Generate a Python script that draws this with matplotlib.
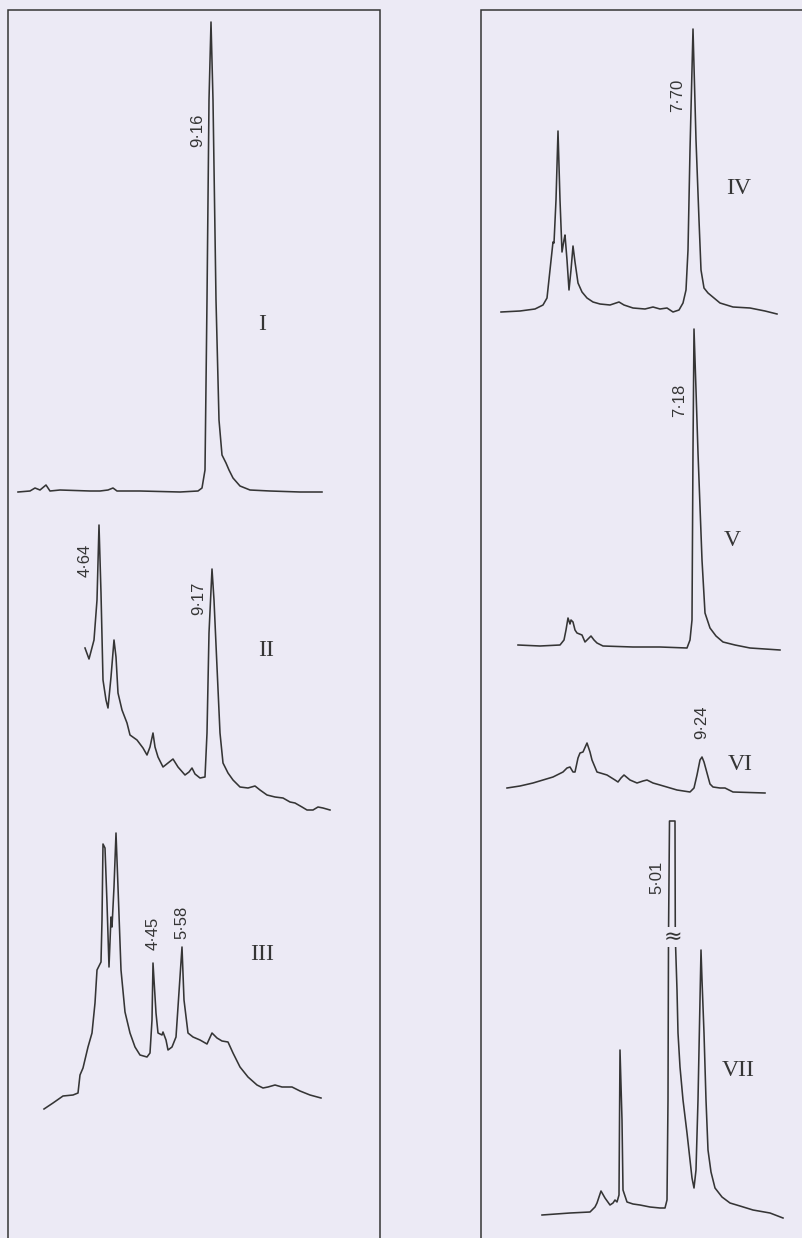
import matplotlib
matplotlib.use("Agg")
import matplotlib.pyplot as plt
from matplotlib.patches import Rectangle

trace_I_x = [10, 22, 27, 32, 38, 42, 52, 82, 92, 100, 105, 109, 132, 172, 190, 194, 197, 199, 201, 203,
             205, 208, 211, 214, 218, 221, 225, 232, 242, 262, 292, 314]
trace_I_y = [1, 2, 5, 3, 8, 2, 3, 2, 2, 3, 5, 2, 2, 1, 2, 5, 23, 193, 393, 471,
             393, 193, 73, 38, 30, 23, 15, 7, 3, 2, 1, 1]

trace_II_x = [77, 81, 86, 89, 91, 93, 95, 98, 100, 103, 106, 108, 110, 114, 119, 122, 129, 135, 139, 142,
              145, 147, 150, 155, 160, 165, 170, 177, 181, 184, 187, 192, 197, 199, 201, 204, 206, 209,
              212, 215, 220, 225, 232, 240, 247, 252, 259, 267, 275, 282, 287, 294, 299, 305, 310, 315, 322]
trace_II_y = [162, 151, 170, 210, 285, 217, 130, 110, 102, 133, 170, 153, 117, 100, 87, 75, 70, 62, 55, 63,
              77, 63, 53, 43, 47, 51, 43, 35, 38, 42, 36, 32, 33, 77, 177, 241, 210, 143,
              77, 47, 37, 30, 23, 22, 24, 20, 15, 13, 12, 8, 7, 3, 0, 0, 3, 2, 0]

trace_III_x = [36, 45, 55, 65, 70, 72, 75, 80, 84, 87, 89, 93, 94, 95, 97, 99, 101, 103, 104, 106,
               108, 110, 113, 117, 122, 127, 132, 139, 142, 144, 145, 148, 150, 154, 155, 158, 160, 164,
               168, 170, 174, 176, 180, 185, 192, 199, 204, 209, 214, 220, 225, 232, 240, 249, 255, 260,
               267, 274, 284, 292, 302, 313]
trace_III_y = [0, 6, 13, 14, 16, 34, 41, 62, 76, 106, 139, 147, 189, 265, 261, 206, 142, 192, 182, 222,
               276, 222, 139, 97, 76, 62, 54, 52, 56, 89, 146, 96, 76, 74, 77, 69, 59, 62,
               72, 102, 162, 109, 76, 72, 69, 65, 76, 71, 68, 67, 56, 42, 32, 24, 21, 22,
               24, 22, 22, 18, 14, 11]

trace_IV_x = [20, 39, 54, 62, 66, 69, 72, 73, 75, 77, 79, 81, 83, 84, 86, 88, 90, 92, 94, 97,
              101, 106, 112, 119, 129, 138, 143, 152, 164, 172, 179, 186, 192, 198, 202, 205, 207,
              209, 212, 215, 218, 220, 223, 227, 233, 239, 252, 269, 284, 296]
trace_IV_y = [2, 3, 5, 9, 16, 44, 72, 71, 114, 183, 114, 62, 74, 79, 54, 24, 44, 68, 52, 31,
              22, 16, 12, 10, 9, 12, 9, 6, 5, 7, 5, 6, 2, 4, 11, 24, 64,
              164, 285, 174, 94, 44, 26, 21, 16, 11, 7, 6, 3, 0]

trace_V_x = [37, 59, 79, 83, 85, 87, 89, 90, 92, 94, 96, 101, 104, 107, 110, 113, 116, 122, 152, 179,
             206, 209, 211, 212, 213, 215, 217, 221, 224, 229, 235, 242, 254, 269, 299]
trace_V_y = [5, 4, 5, 10, 20, 32, 26, 30, 28, 20, 17, 15, 8, 11, 14, 10, 7, 4, 3, 3,
             2, 10, 30, 200, 321, 260, 197, 90, 37, 22, 14, 8, 5, 2, 0]

trace_VI_x = [26, 39, 52, 72, 82, 86, 89, 92, 94, 97, 99, 102, 106, 109, 111, 116, 126, 134, 137, 140,
              143, 149, 156, 162, 166, 172, 179, 196, 209, 213, 216, 219, 221, 223, 226, 229, 232, 239,
              244, 252, 284]
trace_VI_y = [5, 7, 10, 16, 21, 25, 26, 21, 21, 35, 40, 41, 50, 41, 33, 21, 18, 13, 11, 15,
              18, 13, 10, 12, 13, 10, 8, 3, 1, 5, 18, 33, 36, 31, 20, 9, 6, 5,
              5, 1, 0]

trace_VII_x = [61, 89, 109, 114, 116, 120, 124, 129, 132, 134, 136, 138, 139, 141, 142, 146, 152, 159, 169, 179,
               184, 186, 187, 187.5, 188.5, 194, 194.3, 196, 197, 199, 202, 206, 209, 211, 213, 215, 217,
               219, 220, 221, 223, 225, 227, 230, 234, 241, 249, 259, 272, 289, 302]
trace_VII_y = [3, 5, 6, 11, 15, 27, 20, 13, 15, 18, 16, 23, 168, 98, 28, 16, 14, 13, 11, 10,
               10, 18, 118, 281, 397, 397, 281, 228, 185, 151, 118, 85, 58, 40, 30, 48, 118,
               218, 268, 238, 185, 118, 68, 46, 30, 21, 15, 12, 8, 5, 0]

# peak retention labels: (trace, x, y, text)
peak_labels = [("I", 190, 363, "9·16"),
               ("II", 77, 250, "4·64"), ("II", 191, 212, "9·17"),
               ("III", 145, 176, "4·45"), ("III", 174, 187, "5·58"),
               ("IV", 197, 219, "7·70"),
               ("V", 199, 250, "7·18"),
               ("VI", 221, 71, "9·24"),
               ("VII", 176, 341, "5·01")]
# roman numeral panel names: (trace, x, y)
trace_names = [("I", 254, 168), ("II", 258, 160), ("III", 254, 154),
               ("IV", 258, 125), ("V", 251, 110), ("VI", 259, 28), ("VII", 257, 148)]

W, H = 803, 1238
bg = "#ECEAF5"
ink = "#353535"

fig = plt.figure(figsize=(W / 100, H / 100), dpi=100)
fig.patch.set_facecolor(bg)

# two framed boxes (pixel layout: left, top, right)
boxes = {"left": (8, 10, 380), "right": (481, 10, 820)}
for left, top, right in boxes.values():
    fig.patches.append(Rectangle((left / W, -0.05), (right - left) / W, (H - top) / H + 0.05,
                                 transform=fig.transFigure, fill=False, ec=ink, lw=1.1))

# where each trace sits: box and baseline row (pixels from top)
placement = {"I": ("left", 493), "II": ("left", 810), "III": ("left", 1109),
             "IV": ("right", 314), "V": ("right", 650), "VI": ("right", 793), "VII": ("right", 1218)}
data = {"I": (trace_I_x, trace_I_y), "II": (trace_II_x, trace_II_y), "III": (trace_III_x, trace_III_y),
        "IV": (trace_IV_x, trace_IV_y), "V": (trace_V_x, trace_V_y), "VI": (trace_VI_x, trace_VI_y),
        "VII": (trace_VII_x, trace_VII_y)}

axes = {}
for name, (box, base) in placement.items():
    left, top, right = boxes[box]
    w = 322 if box == "right" else right - left
    ax = fig.add_axes([left / W, (H - base) / H, w / W, (base - top) / H])
    ax.set_xlim(0, w)
    ax.set_ylim(0, base - top)
    ax.axis("off")
    ax.patch.set_alpha(0)
    x, y = data[name]
    ax.plot(x, y, color=ink, lw=1.15, clip_on=False, solid_joinstyle="round")
    axes[name] = ax

for name, x, y, txt in peak_labels:
    axes[name].text(x, y, txt, rotation=90, ha="center", va="center", fontsize=12,
                    family="Liberation Sans", color=ink)

for name, x, y in trace_names:
    axes[name].text(x, y, name, ha="center", va="center", fontsize=17,
                    family="Liberation Serif", color=ink)

# break mark on the off-scale peak of trace VII
axes["VII"].text(191.5, 281, "≈", ha="center", va="center", fontsize=16, color=ink,
                 bbox=dict(fc=bg, ec="none", pad=0.1))

fig.savefig("out.png", dpi=100, facecolor=bg)
